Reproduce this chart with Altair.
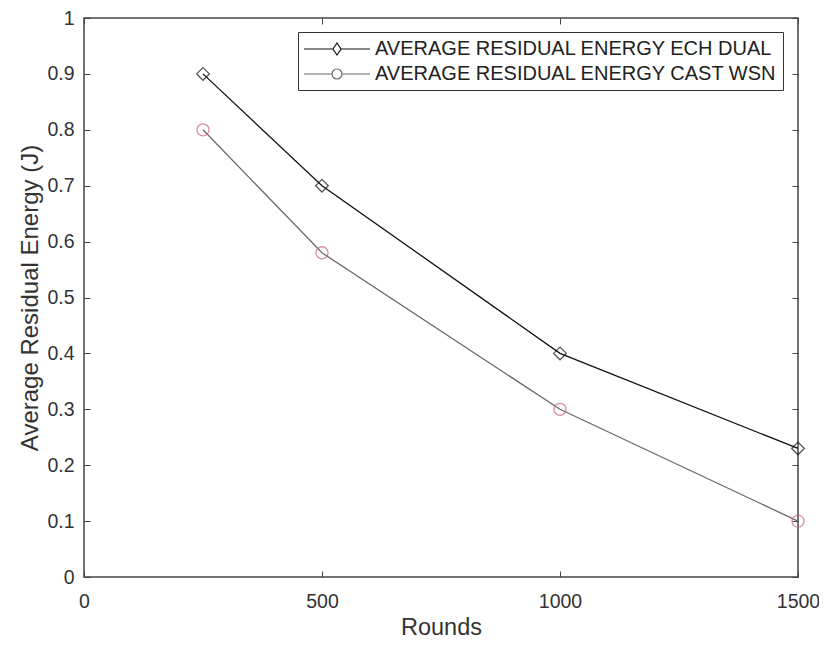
import altair as alt
import pandas as pd

# ---- data ----
rounds = [250, 500, 1000, 1500]
ech_dual = [0.9, 0.7, 0.4, 0.23]
cast_wsn = [0.8, 0.58, 0.3, 0.1]
series_names = ["AVERAGE RESIDUAL ENERGY ECH DUAL", "AVERAGE RESIDUAL ENERGY CAST WSN"]
x_ticks = [0, 500, 1000, 1500]
y_ticks = [0, 0.1, 0.2, 0.3, 0.4, 0.5, 0.6, 0.7, 0.8, 0.9, 1]

# ---- styles ----
line_colors = ["#111111", "#6a6a6a"]
marker_colors = ["#111111", "#c8607c"]
# legend symbols: line segment with marker, unit = 10px (symbolSize 400)
legend_paths = [
    "M-3.3,0L-0.4,0M0.4,0L3.3,0M0,-0.6L0.4,0L0,0.6L-0.4,0Z",
    "M-3.3,0L-0.5,0M0.5,0L3.3,0M0.5,0A0.5,0.5,0,1,1,-0.5,0A0.5,0.5,0,1,1,0.5,0Z",
]
FONT = "Liberation Sans"
TEXT = "#333333"
W, H = 714, 559

df = pd.DataFrame({
    "Rounds": rounds + rounds,
    "Energy": ech_dual + cast_wsn,
    "Series": [series_names[0]] * len(rounds) + [series_names[1]] * len(rounds),
})

xscale = alt.Scale(domain=[0, 1500], nice=False)
yscale = alt.Scale(domain=[0, 1], nice=False)
color_scale = alt.Scale(domain=series_names, range=line_colors)

main_x_axis = alt.Axis(values=x_ticks, format="d", title="Rounds", ticks=False, domain=False, grid=False,
                       labelFont=FONT, labelFontSize=19.5, labelColor=TEXT, labelPadding=15,
                       titleFont=FONT, titleFontSize=23.5, titleFontWeight="normal", titleColor=TEXT,
                       titlePadding=5, labelFlush=False)
main_y_axis = alt.Axis(values=y_ticks, format="~g", title="Average Residual Energy (J)", ticks=False,
                       domain=False, grid=False, labelFont=FONT, labelFontSize=19.5, labelColor=TEXT,
                       labelPadding=10, titleFont=FONT, titleFontSize=24, titleFontWeight="normal",
                       titleColor=TEXT, titlePadding=4, labelFlush=False)

def tick_axis(values, orient, offset):
    return alt.Axis(values=values, orient=orient, offset=offset, labels=False, title=None,
                    domain=False, grid=False, ticks=True, tickSize=6, tickColor="#444444", tickWidth=1)

legend_def = alt.Legend(
    orient="none", legendX=214, legendY=14, title=None,
    symbolSize=400, symbolStrokeWidth=1.2, symbolOpacity=1, symbolOffset=22,
    labelFont=FONT, labelFontSize=20, labelColor="#222222", labelOffset=27, labelLimit=600,
    strokeColor="#333333", fillColor="white", padding=6, rowPadding=4,
)

base = alt.Chart(df)

lines = base.mark_line(strokeWidth=1.3).encode(
    x=alt.X("Rounds:Q", scale=xscale, axis=main_x_axis),
    y=alt.Y("Energy:Q", scale=yscale, axis=main_y_axis),
    color=alt.Color("Series:N", scale=color_scale, legend=legend_def),
    detail="Series:N",
)

pts_ech = base.transform_filter(alt.datum.Series == series_names[0]).mark_point(
    shape="diamond", size=160, filled=False, strokeWidth=1.3, color=marker_colors[0]
).encode(
    x=alt.X("Rounds:Q", scale=xscale, axis=tick_axis(x_ticks, "top", -H)),
    y=alt.Y("Energy:Q", scale=yscale, axis=tick_axis(y_ticks, "right", -W)),
)

pts_cast = base.transform_filter(alt.datum.Series == series_names[1]).mark_point(
    shape="circle", size=145, filled=False, strokeWidth=1.3, color=marker_colors[1]
).encode(
    x=alt.X("Rounds:Q", scale=xscale, axis=tick_axis(x_ticks, "bottom", -H)),
    y=alt.Y("Energy:Q", scale=yscale, axis=tick_axis(y_ticks, "left", -W)),
)

legend_layer = base.mark_point(opacity=0, filled=False).encode(
    x=alt.X("Rounds:Q", scale=xscale, axis=None),
    y=alt.Y("Energy:Q", scale=yscale, axis=None),
    color=alt.Color("Series:N", scale=color_scale, legend=legend_def),
    shape=alt.Shape("Series:N", scale=alt.Scale(domain=series_names, range=legend_paths),
                    legend=legend_def),
)

chart = alt.layer(lines, pts_ech, pts_cast, legend_layer).resolve_axis(
    x="independent", y="independent"
).properties(
    width=W, height=H,
    autosize=alt.AutoSizeParams(type="none"),
    padding={"left": 76, "top": 10, "right": 21, "bottom": 65},
    background="white",
).configure_view(stroke="#444444", strokeWidth=1.5)

chart.save("out.html", embed_options={"renderer": "svg", "actions": False})
